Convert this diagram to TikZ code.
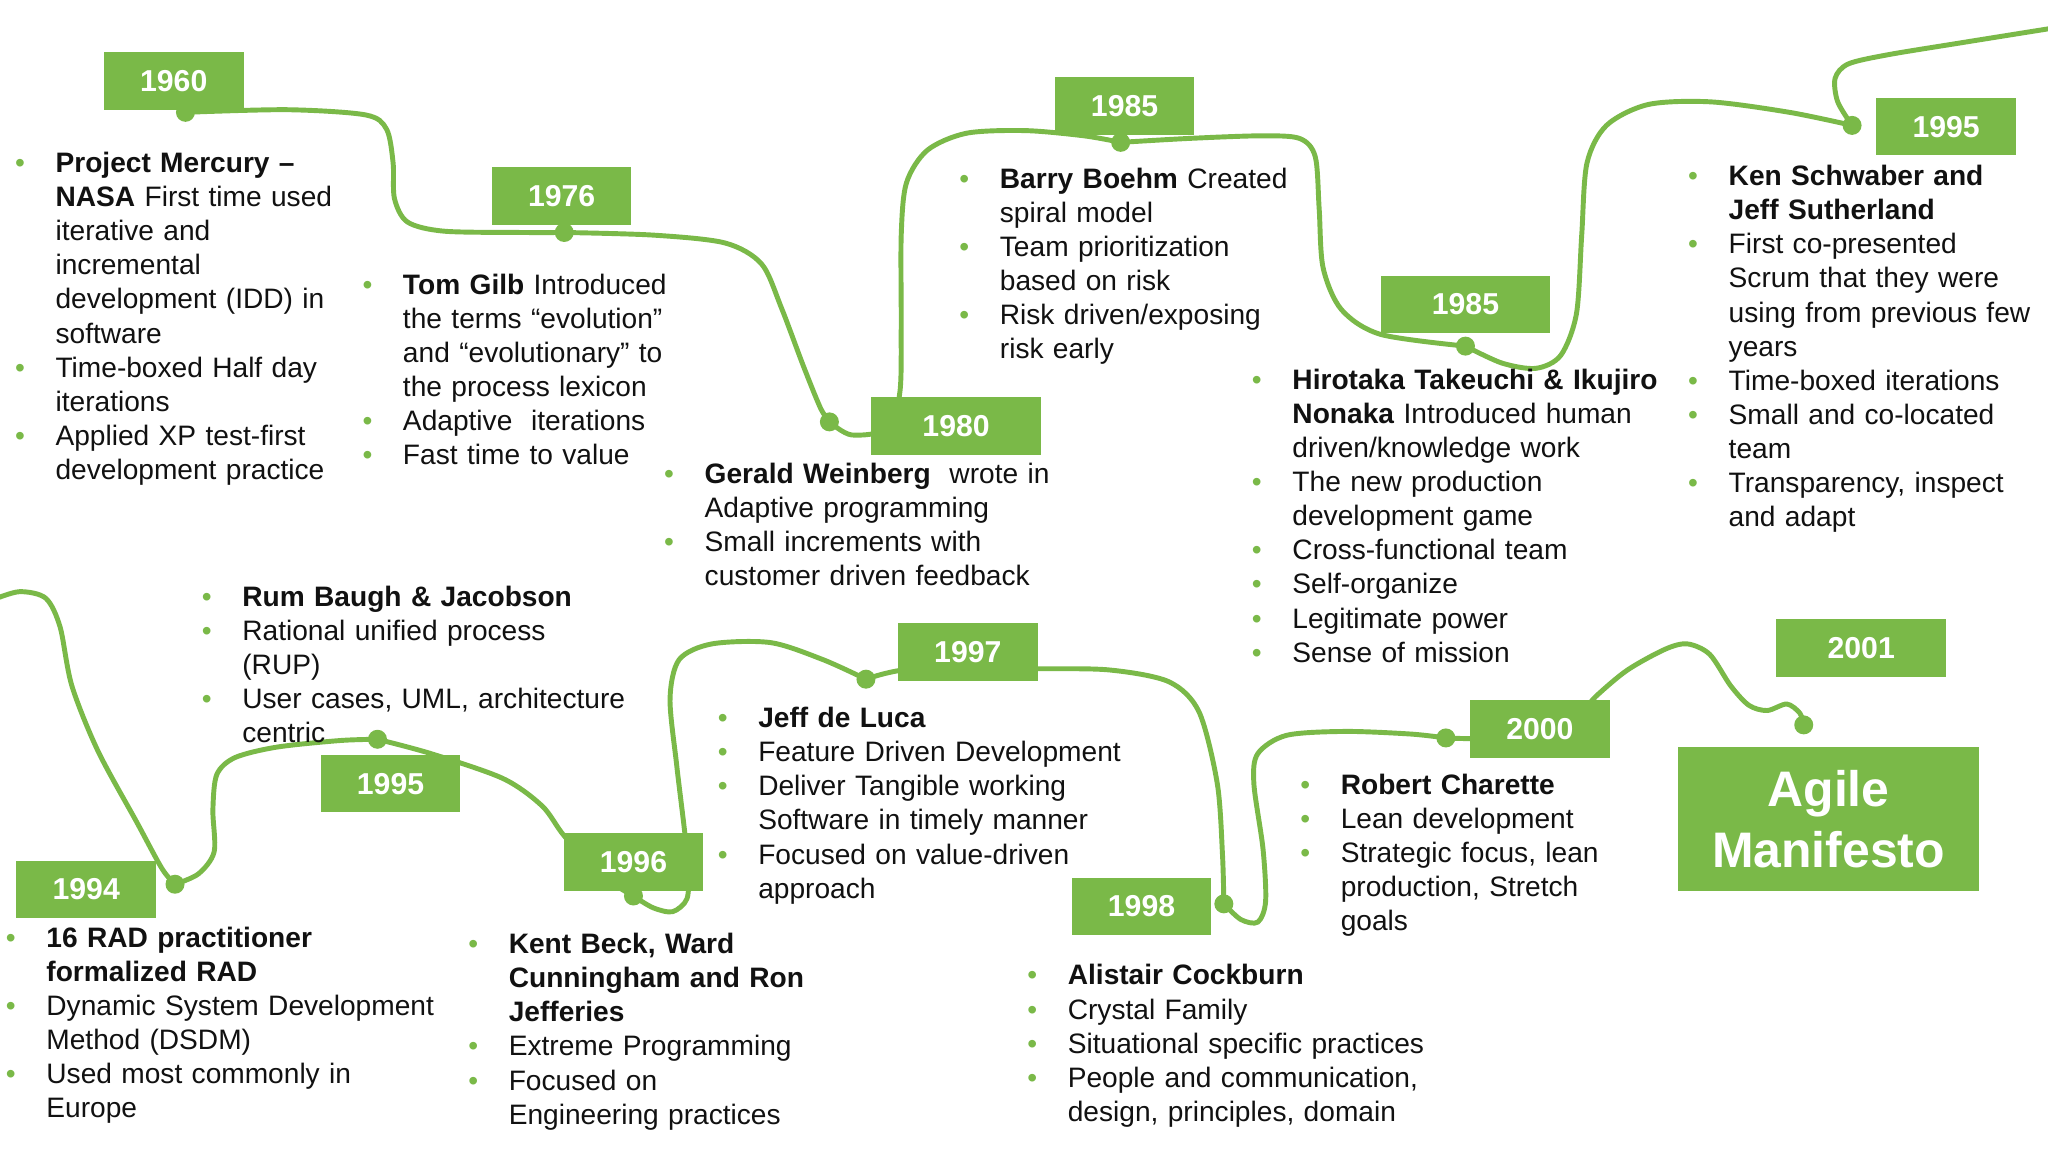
\documentclass[tikz,border=0pt]{standalone}
\usepackage{fontspec}
\setmainfont{Liberation Sans}
\usepackage{xcolor}
\definecolor{agreen}{RGB}{122,185,72}
\definecolor{adark}{RGB}{17,17,17}
\usetikzlibrary{positioning}
\newlength{\bind}
\setlength{\bind}{0.405cm}
\newcommand{\bbreak}{\unskip\hfil\break}
\newcommand{\bitem}[1]{\noindent\hangindent=\bind\hangafter=1%
  \makebox[\bind][l]{\textcolor{agreen}{\textbullet}}{\let\\\bbreak #1}\par}
\tikzset{
  ybox/.style={fill=agreen, text=white, font=\fontsize{8.6}{10}\selectfont\bfseries,
               minimum width=#1, minimum height=0.575cm, inner sep=0pt},
  ybox/.default=1.397cm,
  mbox/.style={fill=agreen, text=white, font=\fontsize{14.2}{17.4}\selectfont\bfseries,
               minimum width=3.004cm, minimum height=1.437cm, align=center, inner sep=0pt},
  bdot/.style={circle, fill=agreen, inner sep=0pt, minimum size=0.19cm},
  track/.style={draw=agreen, line width=1.4pt, line cap=round},
  blist/.style={anchor=north west, inner sep=0pt, text width=6cm, align=left,
                font=\fontsize{8}{9.7}\selectfont, text=adark},
}

\begin{document}
\begin{tikzpicture}[x=0.01306cm, y=0.01306cm]
\useasboundingbox[fill=white] (0,0) rectangle (1568,-882);
% Dots on the track
\node[bdot] (d1960) at (142,-86) {};
\node[bdot] (d1976) at (432,-178) {};
\node[bdot] (d1980) at (635,-323) {};
\node[bdot] (d1985a) at (858,-109) {};
\node[bdot] (d1985b) at (1122,-265) {};
\node[bdot] (d1995a) at (1418,-96) {};
\node[bdot] (d1994) at (134,-677) {};
\node[bdot] (d1995b) at (289,-566) {};
\node[bdot] (d1996) at (485,-686) {};
\node[bdot] (d1997) at (663,-520) {};
\node[bdot] (d1998) at (937,-692) {};
\node[bdot] (d2000) at (1107,-565) {};
\node[bdot] (d2001) at (1381,-555) {};
\coordinate (topend) at (1575,-21);
\coordinate (botstart) at (-5,-459);
% Top track
\draw[track] plot[smooth] coordinates {(d1960.center) (220,-84) (280,-88) (296,-99) (301,-125) (302,-152) (312,-170) (340,-177) (400,-178) (d1976.center)};
\draw[track] plot[smooth] coordinates {(d1976.center) (500,-180) (555,-186) (583,-202) (598,-235) (615,-280) (628,-312) (d1980.center)};
\draw[track] plot[smooth] coordinates {(d1980.center) (652,-333) (680,-328) (689,-300) (690,-250) (690,-180) (694,-140) (710,-115) (740,-102) (785,-100) (830,-104) (d1985a.center)};
\draw[track] plot[smooth] coordinates {(d1985a.center) (910,-106) (965,-104) (995,-106) (1007,-120) (1010,-160) (1013,-205) (1027,-237) (1057,-256) (d1985b.center)};
\draw[track] plot[smooth] coordinates {(d1985b.center) (1150,-278) (1176,-282) (1195,-272) (1207,-240) (1211,-180) (1215,-125) (1230,-96) (1262,-80) (1310,-78) (1370,-86) (d1995a.center)};
\draw[track] plot[smooth] coordinates {(d1995a.center) (1407,-78) (1405,-60) (1415,-49) (1445,-42) (1500,-33) (topend)};
% Bottom track
\draw[track] plot[smooth] coordinates {(botstart) (15,-453) (35,-458) (46,-480) (55,-525) (75,-575) (105,-630) (124,-665) (d1994.center)};
\draw[track] plot[smooth] coordinates {(d1994.center) (152,-669) (164,-652) (163,-620) (166,-593) (180,-580) (212,-572) (260,-567) (d1995b.center)};
\draw[track] plot[smooth] coordinates {(d1995b.center) (330,-577) (385,-596) (415,-617) (432,-640) (460,-670) (d1996.center)};
\draw[track] plot[smooth] coordinates {(d1996.center) (500,-695) (515,-698) (526,-688) (527,-665) (524,-635) (518,-585) (513,-535) (520,-505) (545,-493) (590,-492) (630,-505) (d1997.center)};
\draw[track] plot[smooth] coordinates {(d1997.center) (700,-512) (795,-512) (850,-513) (895,-522) (918,-545) (932,-600) (936,-655) (d1998.center)};
\draw[track] plot[smooth] coordinates {(d1998.center) (950,-704) (963,-706) (969,-690) (967,-650) (960,-600) (963,-577) (985,-563) (1030,-560) (1080,-562) (d2000.center)};
\draw[track] plot[smooth] coordinates {(d2000.center) (1150,-565) (1200,-555) (1222,-533) (1246,-513) (1275,-497) (1292,-493) (1309,-501) (1325,-525) (1339,-540) (1353,-544) (1368,-539) (1378,-546) (d2001.center)};
% Year markers
\node[ybox] (y1960) at (133,-62) {1960};
\node[ybox] (y1976) at (430,-150) {1976};
\node[ybox=1.698cm] (y1980) at (732,-326) {1980};
\node[ybox] (y1985a) at (861,-81) {1985};
\node[ybox=1.698cm] (y1985b) at (1122,-233) {1985};
\node[ybox] (y1995a) at (1490,-97) {1995};
\node[ybox] (y1994) at (66,-681) {1994};
\node[ybox] (y1995b) at (299,-600) {1995};
\node[ybox] (y1996) at (485,-660) {1996};
\node[ybox] (y1997) at (741,-499) {1997};
\node[ybox] (y1998) at (874,-694) {1998};
\node[ybox] (y2000) at (1179,-558) {2000};
\node[ybox=1.698cm] (y2001) at (1425,-496) {2001};
\node[mbox] (manifesto) at (1400,-627) {Agile\\Manifesto};
% Notes, top row
\node[blist] (n1960) at (11,-116) {%
\bitem{\textbf{Project Mercury –}\\\textbf{NASA} First time used\\iterative and\\incremental\\development (IDD) in\\software}
\bitem{Time-boxed Half day\\iterations}
\bitem{Applied XP test-first\\development practice}};
\node[blist] (n1976) at (277,-209) {%
\bitem{\textbf{Tom Gilb} Introduced\\the terms “evolution”\\and “evolutionary” to\\the process lexicon}
\bitem{Adaptive\ \ iterations}
\bitem{Fast time to value}};
\node[blist] (n1980) at (508,-354) {%
\bitem{\textbf{Gerald Weinberg}\ \ wrote in\\Adaptive programming}
\bitem{Small increments with\\customer driven feedback}};
\node[blist] (n1985a) at (734,-128) {%
\bitem{\textbf{Barry Boehm} Created\\spiral model}
\bitem{Team prioritization\\based on risk}
\bitem{Risk driven/exposing\\risk early}};
\node[blist] (n1985b) at (958,-282) {%
\bitem{\textbf{Hirotaka Takeuchi \& Ikujiro}\\\textbf{Nonaka} Introduced human\\driven/knowledge work}
\bitem{The new production\\development game}
\bitem{Cross-functional team}
\bitem{Self-organize}
\bitem{Legitimate power}
\bitem{Sense of mission}};
\node[blist] (n1995a) at (1292,-126) {%
\bitem{\textbf{Ken Schwaber and}\\\textbf{Jeff Sutherland}}
\bitem{First co-presented\\Scrum that they were\\using from previous few\\years}
\bitem{Time-boxed iterations}
\bitem{Small and co-located\\team}
\bitem{Transparency, inspect\\and adapt}};
% Notes, bottom row
\node[blist] (n1995b) at (154,-448) {%
\bitem{\textbf{Rum Baugh \& Jacobson}}
\bitem{Rational unified process\\(RUP)}
\bitem{User cases, UML, architecture\\centric}};
\node[blist] (n1994) at (4,-709) {%
\bitem{\textbf{16 RAD practitioner}\\\textbf{formalized RAD}}
\bitem{Dynamic System Development\\Method (DSDM)}
\bitem{Used most commonly in\\Europe}};
\node[blist] (n1996) at (358,-714) {%
\bitem{\textbf{Kent Beck, Ward}\\\textbf{Cunningham and Ron}\\\textbf{Jefferies}}
\bitem{Extreme Programming}
\bitem{Focused on\\Engineering practices}};
\node[blist] (n1997) at (549,-541) {%
\bitem{\textbf{Jeff de Luca}}
\bitem{Feature Driven Development}
\bitem{Deliver Tangible working\\Software in timely manner}
\bitem{Focused on value-driven\\approach}};
\node[blist] (n1998) at (786,-738) {%
\bitem{\textbf{Alistair Cockburn}}
\bitem{Crystal Family}
\bitem{Situational specific practices}
\bitem{People and communication,\\design, principles, domain}};
\node[blist] (n2000) at (995,-592) {%
\bitem{\textbf{Robert Charette}}
\bitem{Lean development}
\bitem{Strategic focus, lean\\production, Stretch\\goals}};
\end{tikzpicture}
\end{document}
